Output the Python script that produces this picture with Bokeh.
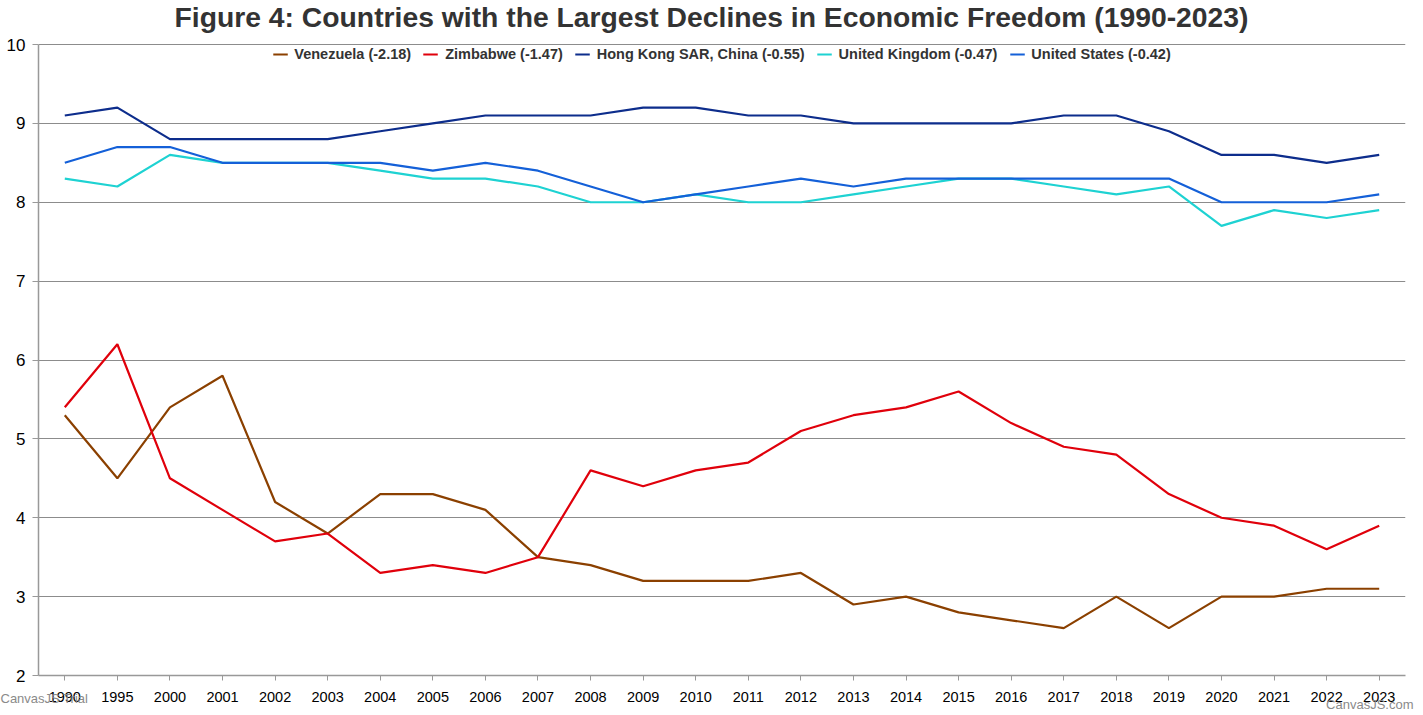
from bokeh.plotting import figure
from bokeh.models import Legend, LegendItem, Label, FixedTicker, FactorRange, Title
from bokeh.embed import file_html
from bokeh.resources import INLINE

years = ["1990", "1995", "2000", "2001", "2002", "2003", "2004", "2005", "2006", "2007",
         "2008", "2009", "2010", "2011", "2012", "2013", "2014", "2015", "2016", "2017",
         "2018", "2019", "2020", "2021", "2022", "2023"]

venezuela = [5.3, 4.5, 5.4, 5.8, 4.2, 3.8, 4.3, 4.3, 4.1, 3.5, 3.4, 3.2, 3.2, 3.2, 3.3, 2.9,
             3.0, 2.8, 2.7, 2.6, 3.0, 2.6, 3.0, 3.0, 3.1, 3.1]
zimbabwe = [5.4, 6.2, 4.5, 4.1, 3.7, 3.8, 3.3, 3.4, 3.3, 3.5, 4.6, 4.4, 4.6, 4.7, 5.1, 5.3,
            5.4, 5.6, 5.2, 4.9, 4.8, 4.3, 4.0, 3.9, 3.6, 3.9]
hong_kong = [9.1, 9.2, 8.8, 8.8, 8.8, 8.8, 8.9, 9.0, 9.1, 9.1, 9.1, 9.2, 9.2, 9.1, 9.1, 9.0,
             9.0, 9.0, 9.0, 9.1, 9.1, 8.9, 8.6, 8.6, 8.5, 8.6]
united_kingdom = [8.3, 8.2, 8.6, 8.5, 8.5, 8.5, 8.4, 8.3, 8.3, 8.2, 8.0, 8.0, 8.1, 8.0, 8.0, 8.1,
                  8.2, 8.3, 8.3, 8.2, 8.1, 8.2, 7.7, 7.9, 7.8, 7.9]
united_states = [8.5, 8.7, 8.7, 8.5, 8.5, 8.5, 8.5, 8.4, 8.5, 8.4, 8.2, 8.0, 8.1, 8.2, 8.3, 8.2,
                 8.3, 8.3, 8.3, 8.3, 8.3, 8.3, 8.0, 8.0, 8.0, 8.1]

series_names = ["Venezuela (-2.18)", "Zimbabwe (-1.47)", "Hong Kong SAR, China (-0.55)",
                "United Kingdom (-0.47)", "United States (-0.42)"]
series_values = [venezuela, zimbabwe, hong_kong, united_kingdom, united_states]
series_colors = ["#8B4000", "#E0000B", "#0D2D8C", "#1ED2D2", "#1460D8"]

title_text = "Figure 4: Countries with the Largest Declines in Economic Freedom (1990-2023)"
y_ticks = [2, 3, 4, 5, 6, 7, 8, 9, 10]
y_min, y_max = 2, 10
font = "Liberation Sans"

W, H = 1415, 715
BL, BR, BB = 38, 10, 40
PLOT_TOP = 44                      # pixel row of the y = 10 line
frame_h = H - BB                   # frame spans from canvas top to the x axis
px_per_unit = (frame_h - PLOT_TOP) / (y_max - y_min)
y_top = y_max + PLOT_TOP / px_per_unit   # headroom above 10 holds title and legend

p = figure(width=W, height=H, x_range=FactorRange(*years), y_range=(y_min, y_top),
           output_backend="svg", toolbar_location=None,
           min_border_left=BL, min_border_right=BR, min_border_top=0, min_border_bottom=BB)

p.outline_line_color = None
p.xgrid.grid_line_color = None
p.ygrid.grid_line_color = "#8C8C8C"
p.ygrid.grid_line_width = 1
p.yaxis.ticker = FixedTicker(ticks=y_ticks)
p.yaxis.bounds = (y_min, y_max)

for ax in (p.xaxis, p.yaxis):
    ax.axis_line_color = "#999999"
    ax.axis_line_width = 1.5
    ax.major_tick_line_color = "#999999"
    ax.minor_tick_line_color = None
    ax.major_label_text_font = font
    ax.major_label_text_color = "#000000"

p.yaxis.major_label_text_font_size = "17px"
p.yaxis.major_tick_out = 6
p.yaxis.major_tick_in = 0
p.yaxis.major_label_standoff = 7
p.xaxis.major_label_text_font_size = "14.5px"
p.xaxis.major_tick_out = 5
p.xaxis.major_tick_in = 0
p.xaxis.major_label_standoff = 11

items = []
for name, vals, col in zip(series_names, series_values, series_colors):
    r = p.line(years, vals, line_color=col, line_width=2.2)
    items.append(LegendItem(label=name, renderers=[r]))

legend = Legend(items=items, orientation="horizontal", location="top_center",
                border_line_color=None, background_fill_alpha=0,
                label_text_font=font, label_text_font_size="14.5px",
                label_text_font_style="bold", label_text_color="#333333",
                glyph_width=15, glyph_height=12, label_standoff=7, spacing=12,
                padding=0, margin=46)
p.add_layout(legend, "center")

# chart title, inside the headroom of the frame (screen px from frame bottom-left)
p.add_layout(Label(x=711 - BL, y=frame_h - 16, x_units="screen", y_units="screen",
                   text=title_text, text_font=font, text_font_size="28.3px",
                   text_font_style="bold", text_color="#333333",
                   text_align="center", text_baseline="alphabetic"))

# trial watermarks below the x axis
try:
    wm_right = Title(text="CanvasJS.com", align="right", offset=-8, vertical_align="top",
                     standoff=-16, text_font=font, text_font_size="13px",
                     text_font_style="normal", text_color="#8A8A8A")
    wm_left = Title(text="CanvasJS Trial", align="left", offset=-BL, vertical_align="top",
                    standoff=-30, text_font=font, text_font_size="13px",
                    text_font_style="normal", text_color="#8A8A8A")
    p.add_layout(wm_right, "below")
    p.add_layout(wm_left, "below")
except Exception:
    pass

open("out.html", "w").write(file_html(p, INLINE))
